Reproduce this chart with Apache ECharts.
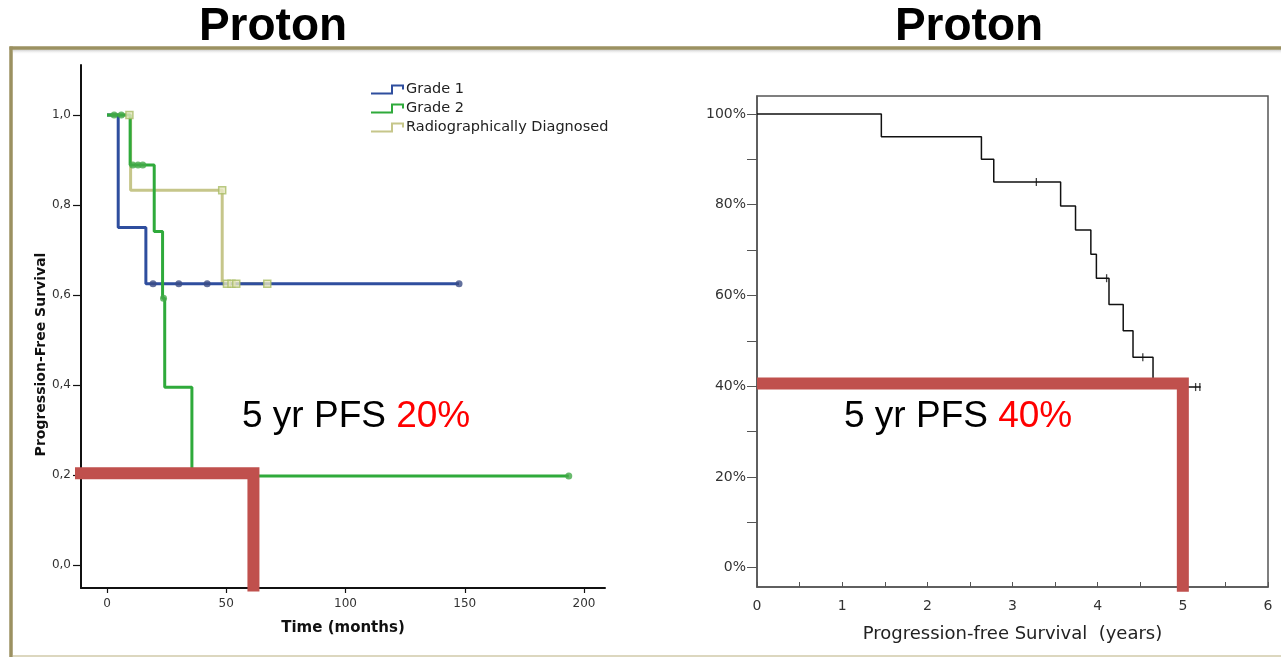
<!DOCTYPE html>
<html><head><meta charset="utf-8">
<script src="https://cdn.jsdelivr.net/npm/echarts@6/dist/echarts.min.js"></script>
<style>html,body{margin:0;padding:0;background:#fff}#c{width:1281px;height:657px}</style>
</head><body><div id="c"></div>
<script>
// ---------- Left chart (Kaplan-Meier, months) ----------
const grade1 = [[0,1],[4.7,0.75],[16.3,0.625],[147.6,0.625]];
const grade1Censor = [[19.3,0.625],[30.1,0.625],[42.0,0.625],[147.6,0.625]];
const grade2 = [[0,1],[9.7,0.889],[19.8,0.741],[23.3,0.593],[24.2,0.395],[35.6,0.198],[193.6,0.198]];
const grade2Censor = [[3.0,1],[6.0,1],[10.8,0.889],[13.0,0.889],[15.0,0.889],[23.7,0.593],[193.6,0.198]];
const radio = [[0,1],[9.9,0.833],[48.3,0.625],[67.2,0.625]];
const radioCensor = [[9.4,1],[48.3,0.833],[50.3,0.625],[52.2,0.625],[54.2,0.625],[67.2,0.625]];
const leftXTicks = [0,50,100,150,200];
const leftYTicks = [0,0.2,0.4,0.6,0.8,1.0];
const leftRef = [[-14.0,0.204],[61.4,0.204],[61.4,-0.059]];
const legendNames = ['Grade 1','Grade 2','Radiographically Diagnosed'];

// ---------- Right chart (years) ----------
const pfsYears = [0,1.46,2.635,2.78,3.565,3.74,3.92,3.985,4.133,4.30,4.415,4.65,5.21];
const pfsPct   = [100,95,90,85,79.7,74.4,69.1,63.8,58.0,52.2,46.4,39.8,39.8];
const pfsCensorYears = [3.28,4.105,4.53,5.15,5.20];
const pfsCensorPct   = [85,63.8,46.4,39.8,39.8];
const rightYTicks = [0,10,20,30,40,50,60,70,80,90,100];
const rightYLabels = [0,20,40,60,80,100];
const rightRef = [[0,40.6],[5.0,40.6],[5.0,-5.3]];

const LF = '"DejaVu Sans", sans-serif';
const AF = '"Liberation Sans", Arial, sans-serif';
const zip = (a,b)=>a.map((v,i)=>[v,b[i]]);
const stepIcon = 'path://M0,8L20,8L20,0L33,0L33,5L31,5L31,2L22,2L22,10L0,10Z';

const chart = echarts.init(document.getElementById('c'), null, {renderer:'canvas', width:1281, height:657});

const option = {
  animation:false,
  backgroundColor:'#ffffff',
  grid:[
    {left:81, top:65, width:524, height:523, show:false},
    {left:757, top:96, width:511, height:491, show:true, borderColor:'#555', borderWidth:1.5, backgroundColor:'transparent'}
  ],
  legend:{
    left:366, top:77, orient:'vertical', itemGap:4, itemWidth:33, itemHeight:10,
    data:legendNames.map(n=>({name:n, icon:stepIcon})),
    itemStyle:{borderWidth:0},
    textStyle:{fontFamily:LF, fontSize:14.5, color:'#222', padding:[0,0,0,-3]},
    selectedMode:false
  },
  xAxis:[
    {gridIndex:0, type:'value', min:-10.9, max:208.8,
     axisLine:{show:true, onZero:false, lineStyle:{color:'#111', width:2}},
     axisTick:{show:true, length:5, customValues:leftXTicks, lineStyle:{color:'#111', width:1.2}},
     axisLabel:{customValues:leftXTicks, margin:10, color:'#333', fontSize:12, fontFamily:LF},
     splitLine:{show:false},
     name:'Time (months)', nameLocation:'middle', nameGap:33,
     nameTextStyle:{fontFamily:LF, fontWeight:'bold', fontSize:15, color:'#111'}},
    {gridIndex:1, type:'value', min:0, max:6, interval:1,
     axisLine:{show:true, onZero:false, lineStyle:{color:'#555', width:1.5}},
     axisTick:{show:true, inside:true, length:5, lineStyle:{color:'#555', width:1}},
     minorTick:{show:true, splitNumber:2, length:5, lineStyle:{color:'#555', width:1}},
     axisLabel:{margin:12, color:'#333', fontSize:14, fontFamily:LF},
     splitLine:{show:false},
     name:'Progression-free Survival  (years)', nameLocation:'middle', nameGap:38,
     nameTextStyle:{fontFamily:LF, fontSize:18, color:'#222'}}
  ],
  yAxis:[
    {gridIndex:0, type:'value', min:-0.0511, max:1.1111,
     axisLine:{show:true, onZero:false, lineStyle:{color:'#111', width:2}},
     axisTick:{show:true, length:8, customValues:leftYTicks, lineStyle:{color:'#111', width:1.2}},
     axisLabel:{customValues:leftYTicks, margin:10, color:'#333', fontSize:12, fontFamily:LF,
       formatter:v=>v.toFixed(1).replace('.',',')},
     splitLine:{show:false},
     name:'Progression-Free Survival', nameLocation:'middle', nameGap:33, nameRotate:90,
     nameTextStyle:{fontFamily:LF, fontWeight:'bold', fontSize:14, color:'#111', padding:[0,56,0,0]}},
    {gridIndex:1, type:'value', min:-4.28, max:103.97,
     axisLine:{show:true, onZero:false, lineStyle:{color:'#555', width:1.5}},
     axisTick:{show:true, length:10, customValues:rightYTicks, lineStyle:{color:'#555', width:1}},
     axisLabel:{customValues:rightYLabels, margin:11, color:'#333', fontSize:14, fontFamily:LF,
       formatter:v=>v+'%'},
     splitLine:{show:false}}
  ],
  series:[
    {name:'Radiographically Diagnosed', type:'line', xAxisIndex:0, yAxisIndex:0, step:'end', data:radio,
     symbol:'none', z:2, color:'#c6c68a', itemStyle:{color:'#c6c68a'}, lineStyle:{color:'#c6c68a', width:3}},
    {name:'Grade 1', type:'line', xAxisIndex:0, yAxisIndex:0, step:'end', data:grade1,
     symbol:'none', z:3, color:'#2f4e9e', itemStyle:{color:'#2f4e9e'}, lineStyle:{color:'#2f4e9e', width:3}},
    {name:'Grade 2', type:'line', xAxisIndex:0, yAxisIndex:0, step:'end', data:grade2,
     symbol:'none', z:4, color:'#2faa3b', itemStyle:{color:'#2faa3b'}, lineStyle:{color:'#2faa3b', width:3}},
    {name:'rd-censor', type:'scatter', xAxisIndex:0, yAxisIndex:0, data:radioCensor, symbol:'rect', symbolSize:7, z:5,
     itemStyle:{color:'#e7e7c2', borderColor:'#a9bd66', borderWidth:1.5}},
    {name:'g1-censor', type:'scatter', xAxisIndex:0, yAxisIndex:0, data:grade1Censor, symbol:'circle', symbolSize:7, z:6,
     itemStyle:{color:'#3b4c85'}},
    {name:'g2-censor', type:'scatter', xAxisIndex:0, yAxisIndex:0, data:grade2Censor, symbol:'circle', symbolSize:7, z:7,
     itemStyle:{color:'#43a948'}},
    {name:'ref-left', type:'line', xAxisIndex:0, yAxisIndex:0, data:leftRef, symbol:'none', clip:false, z:10, silent:true,
     lineStyle:{color:'#c0504d', width:12, join:'miter', cap:'butt'}},
    {name:'PFS', type:'line', xAxisIndex:1, yAxisIndex:1, step:'end', data:zip(pfsYears,pfsPct),
     symbol:'none', z:3, lineStyle:{color:'#111', width:1.5}},
    {name:'PFS-censor', type:'scatter', xAxisIndex:1, yAxisIndex:1, data:zip(pfsCensorYears,pfsCensorPct),
     symbol:'rect', symbolSize:[1.3,8], z:4, itemStyle:{color:'#111'}},
    {name:'ref-right', type:'line', xAxisIndex:1, yAxisIndex:1, data:rightRef, symbol:'none', clip:false, z:10, silent:true,
     lineStyle:{color:'#c0504d', width:12, join:'miter', cap:'butt'}}
  ],
  graphic:[
    {type:'rect', z:0, shape:{x:13, y:49.5, width:1268, height:5},
     style:{fill:new echarts.graphic.LinearGradient(0,0,0,1,[{offset:0,color:'#c9c9c9'},{offset:1,color:'rgba(255,255,255,0)'}])}},
    {type:'line', z:1, shape:{x1:9.5, y1:48, x2:1281, y2:48}, style:{stroke:'#9b9161', lineWidth:3.5}},
    {type:'line', z:1, shape:{x1:11, y1:46.5, x2:11, y2:657}, style:{stroke:'#9b9161', lineWidth:3.5}},
    {type:'line', z:1, shape:{x1:13, y1:656, x2:1281, y2:656}, style:{stroke:'#dcd7bf', lineWidth:2}},
    {type:'text', x:273, y:27, style:{text:'Proton', fill:'#000', font:'bold 46px "Liberation Sans", Arial, sans-serif', align:'center', verticalAlign:'middle'}},
    {type:'text', x:969, y:27, style:{text:'Proton', fill:'#000', font:'bold 46px "Liberation Sans", Arial, sans-serif', align:'center', verticalAlign:'middle'}},
    {type:'text', x:242, y:417, z:20, style:{text:'{a|5 yr PFS }{b|20%}', align:'left', verticalAlign:'middle',
      rich:{a:{fill:'#000', fontSize:37, fontFamily:AF}, b:{fill:'#ff0000', fontSize:37, fontFamily:AF}}}},
    {type:'text', x:844, y:417, z:20, style:{text:'{a|5 yr PFS }{b|40%}', align:'left', verticalAlign:'middle',
      rich:{a:{fill:'#000', fontSize:37, fontFamily:AF}, b:{fill:'#ff0000', fontSize:37, fontFamily:AF}}}}
  ]
};
chart.setOption(option);
</script>
</body></html>
